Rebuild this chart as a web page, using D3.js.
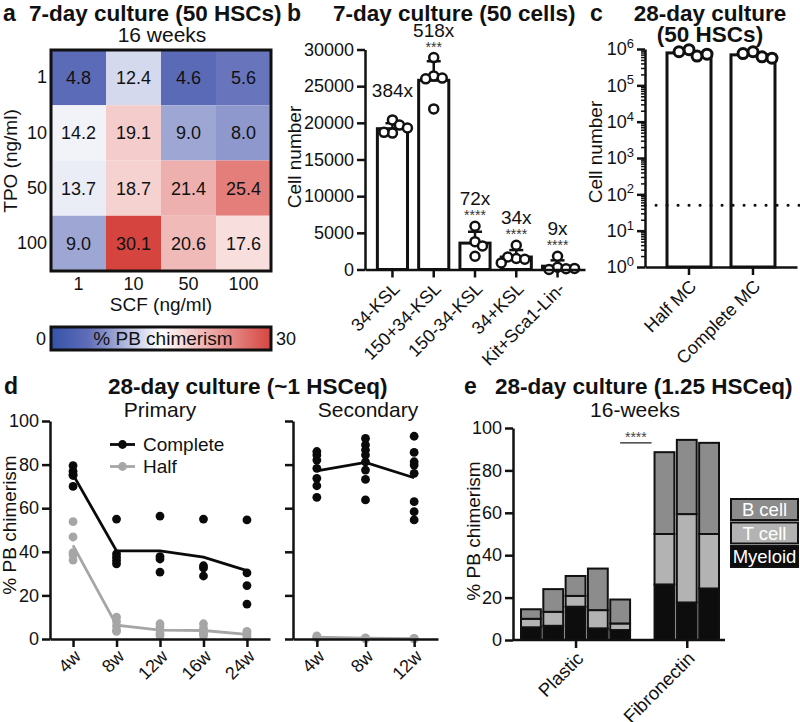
<!DOCTYPE html>
<html><head><meta charset="utf-8">
<script src="https://cdn.jsdelivr.net/npm/d3@7"></script>
<style>
body{margin:0;background:#fff}
svg{display:block}
text{font-family:'Liberation Sans',Arial,Helvetica,sans-serif}
</style>
</head><body>
<svg id="fig" width="800" height="722"></svg>
<script>
// ---------------- DATA ----------------
// Panel a: heatmap (rows = TPO, cols = SCF)
const scfLevels = ["1","10","50","100"];
const tpoLevels = ["1","10","50","100"];
const chimerismGrid = [
  [4.8, 12.4, 4.6, 5.6],
  [14.2, 19.1, 9.0, 8.0],
  [13.7, 18.7, 21.4, 25.4],
  [9.0, 30.1, 20.6, 17.6]
];
const colorbarRange = [0, 30];

// Panel b
const populations = ["34-KSL","150+34-KSL","150-34-KSL","34+KSL","Kit+Sca1-Lin-"];
const cellMean = [19200, 25800, 3600, 1700, 450];
const cellSD = [750, 2600, 1550, 950, 800];
const cellReps = [
  [20400, 19700, 18600, 18700, 19300],
  [28900, 26400, 26100, 26000, 21900],
  [5900, 3800, 3200, 1800],
  [3300, 1500, 1400, 1700, 900],
  [1800, 300, 100, 0, 150]
];
const foldChange = ["384x","518x","72x","34x","9x"];
const significance = ["", "***", "****", "****", "****"];
const cellTicks = [0, 5000, 10000, 15000, 20000, 25000, 30000];

// Panel c
const mediumChange = ["Half MC","Complete MC"];
const mcMean = [780000, 690000];
const mcReps = [[960000, 640000, 840000, 720000],[840000, 610000, 750000, 560000]];
const cellsSeeded = 50;
const logTicks = [1, 10, 100, 1000, 10000, 100000, 1000000];

// Panel d
const primaryWeeks = ["4w","8w","12w","16w","24w"];
const secondaryWeeks = ["4w","8w","12w"];
const primaryComplete = [
  [79.5, 77, 75.5, 75, 70],
  [55, 39, 37.5, 36, 34.5],
  [56.4, 37.8, 36.7, 30.7],
  [55, 33.6, 32.6, 28.9],
  [54.6, 30.3, 24.5, 16]
];
const primaryHalf = [
  [53.8, 46.8, 39.6, 38.5, 36.2],
  [10, 8, 6, 4, 3.5],
  [7, 5.5, 4, 2.5, 1.5],
  [7, 5, 3.5, 2.5, 1.5],
  [3.5, 2.5, 1.5, 1]
];
const secondaryComplete = [
  [86, 84.4, 82.1, 78.3, 73.7, 70.3, 65],
  [92, 89, 86.7, 84.4, 81.3, 77.5, 73.2, 63.8],
  [93, 85.6, 81.3, 79.8, 76, 63, 58.4, 54.6]
];
const secondaryHalf = [[1.4, 0.8, 0.5],[0.5, 0.3, 0.2],[0.3, 0.2, 0.1]];
const pctTicks = [0, 20, 40, 60, 80, 100];

// Panel e
const substrates = ["Plastic","Fibronectin"];
const mouseIds = ["P1","P2","P3","P4","P5","F1","F2","F3"];
const mouseSubstrate = ["Plastic","Plastic","Plastic","Plastic","Plastic","Fibronectin","Fibronectin","Fibronectin"];
const lineages = ["Myeloid","T cell","B cell"];
const myeloidPct = [6.0, 6.7, 15.7, 5.5, 4.7, 26.2, 17.7, 24.3];
const tCellPct   = [4.0, 6.6, 5.1, 8.6, 3.1, 23.8, 41.7, 25.7];
const bCellPct   = [4.5, 10.7, 9.4, 19.6, 11.3, 38.6, 35.0, 43.0];

// ---------------- DRAWING ----------------
const svg = d3.select("#fig");
const ink = "#111";
const FONT = "'Liberation Sans', Arial, Helvetica, sans-serif";

function txt(g, x, y, s, o = {}) {
  return g.append("text").attr("x", x).attr("y", y).text(s)
    .attr("font-size", o.size || 19)
    .attr("font-weight", o.bold ? "bold" : "normal")
    .attr("text-anchor", o.anchor || "start")
    .attr("fill", o.fill || ink);
}
function vtxt(g, x, y, s, size = 19) {
  return g.append("text").attr("transform", `translate(${x},${y}) rotate(-90)`)
    .attr("text-anchor", "middle").attr("font-size", size).attr("fill", ink).text(s);
}
function styleAxis(g, fs = 18, sw = 2.5) {
  g.selectAll("path.domain").attr("stroke", ink).attr("stroke-width", sw);
  g.selectAll(".tick line").attr("stroke", ink).attr("stroke-width", sw);
  g.selectAll(".tick text").attr("font-size", fs).attr("font-family", FONT).attr("fill", ink);
}
function rotateLabels(g, dx = 3, dy = 15) {
  g.selectAll(".tick text")
    .attr("x", 0).attr("y", 0).attr("dy", "0.35em")
    .attr("text-anchor", "end")
    .attr("transform", `translate(${dx},${dy}) rotate(-45)`);
}
function swarm(vals, ys, cx, minDist) {
  const placed = [];
  vals.forEach(v => {
    const y = ys(v);
    let x = cx;
    for (let k = 0; k < 400; k++) {
      const off = (k % 2 ? 1 : -1) * Math.ceil(k / 2) * 0.5;
      const ok = placed.every(p => Math.hypot(p.x - (cx + off), p.y - y) >= minDist);
      if (ok) { x = cx + off; break; }
    }
    placed.push({ v, x, y });
  });
  return placed;
}

// ---------- Panel a ----------
const ga = svg.append("g");
txt(ga, 3, 21, "a", { bold: true, size: 23 });
txt(ga, 29, 21, "7-day culture (50 HSCs)", { bold: true, size: 22.5 });
txt(ga, 162, 42, "16 weeks", { size: 21, anchor: "middle" });

const xa = d3.scaleBand().domain(scfLevels).range([51, 271]);
const ya = d3.scaleBand().domain(tpoLevels).range([50, 271]);
const heatColor = d3.scaleLinear().domain([0, 5, 15, 30])
  .range(["#3553a8", "#5e6cb8", "#ffffff", "#d64540"]);

const cells = [];
tpoLevels.forEach((t, r) => scfLevels.forEach((s, c) => cells.push({ t, s, v: chimerismGrid[r][c] })));
ga.selectAll("rect.cell").data(cells).join("rect").attr("class", "cell")
  .attr("x", d => xa(d.s)).attr("y", d => ya(d.t))
  .attr("width", xa.bandwidth()).attr("height", ya.bandwidth())
  .attr("fill", d => heatColor(d.v));
ga.selectAll("text.val").data(cells).join("text").attr("class", "val")
  .attr("x", d => xa(d.s) + xa.bandwidth() / 2).attr("y", d => ya(d.t) + ya.bandwidth() / 2)
  .attr("dy", "0.36em").attr("text-anchor", "middle").attr("font-size", 18).attr("fill", ink)
  .text(d => d3.format(".1f")(d.v));
ga.append("rect").attr("x", 51).attr("y", 50).attr("width", 220).attr("height", 221)
  .attr("fill", "none").attr("stroke", ink).attr("stroke-width", 3);

const axA1 = ga.append("g").attr("transform", "translate(51,0)")
  .call(d3.axisLeft(ya).tickSize(0).tickPadding(4));
axA1.select(".domain").remove(); styleAxis(axA1, 18);
const axA2 = ga.append("g").attr("transform", "translate(0,271)")
  .call(d3.axisBottom(xa).tickSize(0).tickPadding(6));
axA2.select(".domain").remove(); styleAxis(axA2, 18);
vtxt(ga, 17, 161, "TPO (ng/ml)");
txt(ga, 161, 311, "SCF (ng/ml)", { anchor: "middle" });

// colorbar
const defs = svg.append("defs");
const grad = defs.append("linearGradient").attr("id", "cbar");
d3.range(0, 31, 1).forEach(v => grad.append("stop")
  .attr("offset", (v - colorbarRange[0]) / (colorbarRange[1] - colorbarRange[0]))
  .attr("stop-color", heatColor(v)));
ga.append("rect").attr("x", 51).attr("y", 327).attr("width", 220).attr("height", 23)
  .attr("fill", "url(#cbar)").attr("stroke", ink).attr("stroke-width", 3);
txt(ga, 46, 345, String(colorbarRange[0]), { anchor: "end", size: 18 });
txt(ga, 276, 345, String(colorbarRange[1]), { size: 18 });
txt(ga, 163, 345, "% PB chimerism", { anchor: "middle", size: 19 });

// ---------- Panel b ----------
const gb = svg.append("g");
txt(gb, 287, 21, "b", { bold: true, size: 23 });
txt(gb, 333, 21, "7-day culture (50 cells)", { bold: true, size: 22.5 });
const yb = d3.scaleLinear().domain([0, 30000]).range([269.5, 49.5]);
const xb = d3.scaleBand().domain(populations).range([365, 585]).paddingInner(0.27).paddingOuter(0.30);
gb.selectAll("rect.bar").data(populations).join("rect").attr("class", "bar")
  .attr("x", d => xb(d)).attr("width", xb.bandwidth())
  .attr("y", (d, i) => yb(cellMean[i])).attr("height", (d, i) => yb(0) - yb(cellMean[i]))
  .attr("fill", "#fff").attr("stroke", ink).attr("stroke-width", 3);
populations.forEach((p, i) => {
  const cx = xb(p) + xb.bandwidth() / 2;
  const yTopSD = yb(cellMean[i] + cellSD[i]);
  gb.append("line").attr("x1", cx).attr("x2", cx).attr("y1", yb(cellMean[i])).attr("y2", yTopSD)
    .attr("stroke", ink).attr("stroke-width", 2.5);
  gb.append("line").attr("x1", cx - 7).attr("x2", cx + 7).attr("y1", yTopSD).attr("y2", yTopSD)
    .attr("stroke", ink).attr("stroke-width", 2.5);
  const pts = swarm(cellReps[i], yb, cx, 8.5);
  gb.selectAll(null).data(pts).join("circle").attr("cx", d => d.x).attr("cy", d => d.y).attr("r", 4.5)
    .attr("fill", "#fff").attr("stroke", ink).attr("stroke-width", 2.5);
  const top = Math.min(yTopSD, yb(d3.max(cellReps[i]))) - 5;
  if (significance[i]) {
    txt(gb, cx, top - 1, significance[i], { anchor: "middle", size: 14, fill: "#333" });
    txt(gb, cx, top - 16, foldChange[i], { anchor: "middle", size: 19 });
  } else {
    txt(gb, cx, top - 18, foldChange[i], { anchor: "middle", size: 19 });
  }
});
const axB1 = gb.append("g").attr("transform", "translate(365,0)")
  .call(d3.axisLeft(yb).tickValues(cellTicks).tickSize(8).tickSizeOuter(0).tickFormat(d3.format("d")));
styleAxis(axB1, 18);
const axB2 = gb.append("g").attr("transform", "translate(0,269.5)")
  .call(d3.axisBottom(xb).tickSize(8).tickSizeOuter(0));
styleAxis(axB2, 18); rotateLabels(axB2, 4, 16);
vtxt(gb, 301, 157, "Cell number");

// ---------- Panel c ----------
const gc = svg.append("g");
txt(gc, 590, 21, "c", { bold: true, size: 23 });
txt(gc, 710, 21, "28-day culture", { bold: true, size: 22.5, anchor: "middle" });
txt(gc, 710, 42, "(50 HSCs)", { bold: true, size: 22.5, anchor: "middle" });
const yc = d3.scaleLog().domain([1, 1e6]).range([267, 49]);
const xc = d3.scaleBand().domain(mediumChange).range([645, 797]).paddingInner(0.3125).paddingOuter(0.344);
gc.selectAll("rect.bar").data(mediumChange).join("rect")
  .attr("x", d => xc(d)).attr("width", xc.bandwidth())
  .attr("y", (d, i) => yc(mcMean[i])).attr("height", (d, i) => yc(1) - yc(mcMean[i]))
  .attr("fill", "#fff").attr("stroke", ink).attr("stroke-width", 3);
gc.append("line").attr("x1", 645).attr("x2", 800).attr("y1", yc(cellsSeeded)).attr("y2", yc(cellsSeeded))
  .attr("stroke", ink).attr("stroke-width", 3).attr("stroke-linecap", "round")
  .attr("stroke-dasharray", "0.1,10.9");
mediumChange.forEach((m, i) => {
  const cx = xc(m) + xc.bandwidth() / 2;
  const pts = swarm(mcReps[i], yc, cx, 10);
  gc.selectAll(null).data(pts).join("circle").attr("cx", d => d.x).attr("cy", d => d.y).attr("r", 5)
    .attr("fill", "#fff").attr("stroke", ink).attr("stroke-width", 3);
});
const minorTicks = [];
for (let e = 0; e < 6; e++) for (let m = 2; m < 10; m++) minorTicks.push(m * Math.pow(10, e));
const axC0 = gc.append("g").attr("transform", "translate(645,0)")
  .call(d3.axisLeft(yc).tickValues(minorTicks).tickSize(4).tickSizeOuter(0).tickFormat(""));
styleAxis(axC0, 18, 1.5); axC0.select(".domain").remove();
const axC1 = gc.append("g").attr("transform", "translate(645,0)")
  .call(d3.axisLeft(yc).tickValues(logTicks).tickSize(8).tickSizeOuter(0));
styleAxis(axC1, 18);
axC1.selectAll(".tick text").each(function (d) {
  const t = d3.select(this); t.text("10");
  t.append("tspan").attr("dy", "-0.55em").attr("font-size", 13).text(Math.round(Math.log10(d)));
});
const axC2 = gc.append("g").attr("transform", "translate(0,267)")
  .call(d3.axisBottom(xc).tickSize(8).tickSizeOuter(0));
styleAxis(axC2, 18); rotateLabels(axC2, 4, 16);
vtxt(gc, 602, 152, "Cell number");

// ---------- Panel d ----------
const gd = svg.append("g");
txt(gd, 4, 394, "d", { bold: true, size: 23 });
txt(gd, 108, 394, "28-day culture (~1 HSCeq)", { bold: true, size: 22.5 });
txt(gd, 160, 417, "Primary", { size: 21, anchor: "middle" });
txt(gd, 368, 417, "Secondary", { size: 21, anchor: "middle" });
const yd = d3.scaleLinear().domain([0, 100]).range([639, 421]);
const xdP = d3.scalePoint().domain(primaryWeeks).range([50, 270]).padding(0.53);
const xdS = d3.scalePoint().domain(secondaryWeeks).range([293, 438]).padding(0.49);
const black = "#0a0a0a", grey = "#a6a6a6";
function series(xs, weeks, reps, color) {
  const means = reps.map(r => d3.mean(r));
  gd.append("path").datum(means)
    .attr("d", d3.line().x((d, i) => xs(weeks[i])).y(d => yd(d)))
    .attr("fill", "none").attr("stroke", color).attr("stroke-width", 2.8);
  const pts = [];
  reps.forEach((r, i) => r.forEach(v => pts.push({ x: xs(weeks[i]), v })));
  gd.selectAll(null).data(pts).join("circle").attr("cx", d => d.x).attr("cy", d => yd(d.v))
    .attr("r", 4.4).attr("fill", color);
}
series(xdP, primaryWeeks, primaryHalf, grey);
series(xdP, primaryWeeks, primaryComplete, black);
series(xdS, secondaryWeeks, secondaryComplete, black);
series(xdS, secondaryWeeks, secondaryHalf, grey);
const axD1 = gd.append("g").attr("transform", "translate(50,0)")
  .call(d3.axisLeft(yd).tickValues(pctTicks).tickSize(8).tickSizeOuter(0));
styleAxis(axD1, 18);
const axD2 = gd.append("g").attr("transform", "translate(0,639)")
  .call(d3.axisBottom(xdP).tickSize(8).tickSizeOuter(0));
styleAxis(axD2, 18); rotateLabels(axD2, 4, 14);
const axD3 = gd.append("g").attr("transform", "translate(293,0)")
  .call(d3.axisLeft(yd).tickValues(pctTicks).tickSize(8).tickSizeOuter(0).tickFormat(""));
styleAxis(axD3, 18);
const axD4 = gd.append("g").attr("transform", "translate(0,639)")
  .call(d3.axisBottom(xdS).tickSize(8).tickSizeOuter(0));
styleAxis(axD4, 18); rotateLabels(axD4, 4, 14);
vtxt(gd, 16, 525, "% PB chimerism");
// legend
[["Complete", black, 451], ["Half", grey, 473]].forEach(([lab, col, yb0]) => {
  gd.append("line").attr("x1", 110).attr("x2", 135).attr("y1", yb0 - 6.5).attr("y2", yb0 - 6.5)
    .attr("stroke", col).attr("stroke-width", 2.8);
  gd.append("circle").attr("cx", 122.5).attr("cy", yb0 - 6.5).attr("r", 4.4).attr("fill", col);
  txt(gd, 143, yb0, lab, { size: 19 });
});

// ---------- Panel e ----------
const ge = svg.append("g");
txt(ge, 464, 394, "e", { bold: true, size: 23 });
txt(ge, 495, 394, "28-day culture (1.25 HSCeq)", { bold: true, size: 22.5 });
txt(ge, 635, 417, "16-weeks", { size: 21, anchor: "middle" });
const ye = d3.scaleLinear().domain([0, 100]).range([640, 428]);
const xe = d3.scaleBand().domain(mouseIds).range([521, 697]).paddingInner(0.11).paddingOuter(0);
const groupGap = 22;
const barX = id => xe(id) + (mouseSubstrate[mouseIds.indexOf(id)] === "Fibronectin" ? groupGap : 0);
const lineageColor = d3.scaleOrdinal().domain(lineages).range(["#0d0d0d", "#b3b3b3", "#8c8c8c"]);
const rows = mouseIds.map((id, i) => ({ id, "Myeloid": myeloidPct[i], "T cell": tCellPct[i], "B cell": bCellPct[i] }));
const stack = d3.stack().keys(lineages)(rows);
stack.forEach(layer => {
  ge.selectAll(null).data(layer).join("rect")
    .attr("x", d => barX(d.data.id)).attr("width", xe.bandwidth())
    .attr("y", d => ye(d[1])).attr("height", d => ye(d[0]) - ye(d[1]))
    .attr("fill", lineageColor(layer.key)).attr("stroke", ink).attr("stroke-width", 2);
});
const groupCenter = substrates.map(s => d3.mean(mouseIds.filter((id, i) => mouseSubstrate[i] === s),
  id => barX(id) + xe.bandwidth() / 2));
const xeTicks = d3.scaleOrdinal().domain(substrates).range(groupCenter);
const axE2 = ge.append("g").attr("transform", "translate(0,640)")
  .call(d3.axisBottom(xeTicks).tickSize(8).tickSizeOuter(0));
axE2.select(".domain").remove();
styleAxis(axE2, 18.5); rotateLabels(axE2, 4, 15);
ge.append("line").attr("x1", 513).attr("x2", 725).attr("y1", 640).attr("y2", 640)
  .attr("stroke", ink).attr("stroke-width", 2.5);
const axE1 = ge.append("g").attr("transform", "translate(513,0)")
  .call(d3.axisLeft(ye).tickValues(pctTicks).tickSize(8).tickSizeOuter(0));
styleAxis(axE1, 18);
vtxt(ge, 480, 531, "% PB chimerism");
// significance bar
const sx1 = barX("P5") + xe.bandwidth() / 2, sx2 = barX("F1") - 3;
ge.append("line").attr("x1", sx1).attr("x2", sx2).attr("y1", ye(93)).attr("y2", ye(93))
  .attr("stroke", "#444").attr("stroke-width", 1.5);
txt(ge, (sx1 + sx2) / 2, ye(93) - 1, "****", { anchor: "middle", size: 14, fill: "#444" });
// legend
lineages.slice().reverse().forEach((lab, i) => {
  const y0 = 499 + i * 23.5;
  ge.append("rect").attr("x", 731).attr("y", y0).attr("width", 67).attr("height", 21)
    .attr("fill", lineageColor(lab)).attr("stroke", ink).attr("stroke-width", 2);
  txt(ge, 764.5, y0 + 17, lab, { anchor: "middle", size: 18.5, fill: "#fff" });
});
</script>
</body></html>
